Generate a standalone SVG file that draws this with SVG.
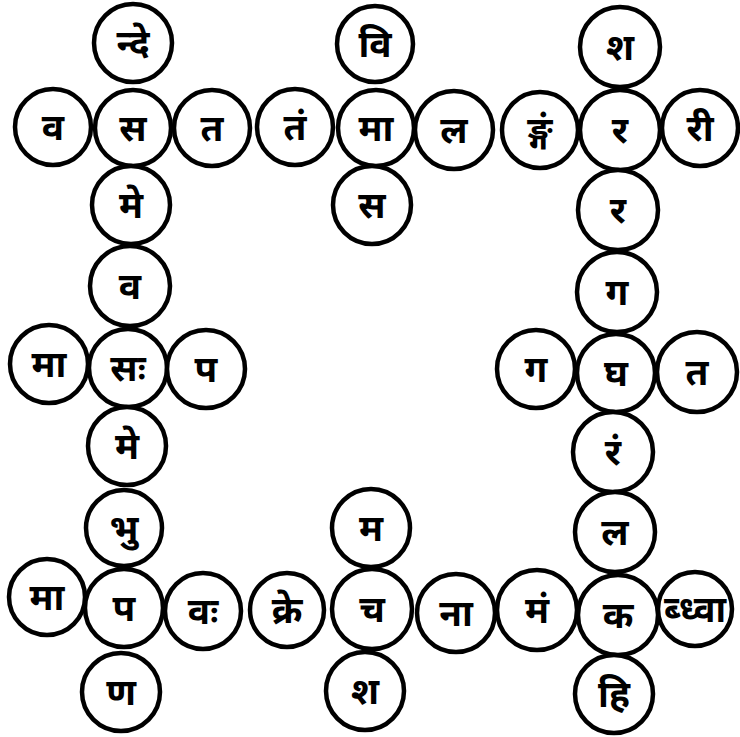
<svg xmlns="http://www.w3.org/2000/svg" width="740" height="737" viewBox="0 0 740 737">
<style>
  .c { fill: #fff; stroke: #000; stroke-width: 4.5; }
  .t { font-family: "Noto Sans Devanagari", "Noto Serif Devanagari", "Lohit Devanagari", "Mukta", "Noto Sans", sans-serif; font-size: 37px; font-weight: bold; text-anchor: middle; fill: #000; }
</style>
<rect width="740" height="737" fill="#fff"/>
<g id="connectors"></g>
<g id="n1"><circle class="c" cx="53" cy="127" r="38"/><text class="t" x="53" y="140">व</text></g>
<g id="n2"><circle class="c" cx="133" cy="128" r="38"/><text class="t" x="133" y="141">स</text></g>
<g id="n3"><circle class="c" cx="212" cy="128" r="38"/><text class="t" x="212" y="141">त</text></g>
<g id="n4"><circle class="c" cx="295" cy="127" r="38"/><text class="t" x="295" y="140">तं</text></g>
<g id="n5"><circle class="c" cx="376" cy="128" r="38"/><text class="t" x="376" y="141">मा</text></g>
<g id="n6"><circle class="c" cx="454" cy="130" r="39"/><text class="t" x="454" y="143">ल</text></g>
<g id="n7"><circle class="c" cx="540" cy="130" r="38"/><text class="t" x="540" y="143">ङ्गं</text></g>
<g id="n8"><circle class="c" cx="620" cy="130" r="40"/><text class="t" x="620" y="143">र</text></g>
<g id="n9"><circle class="c" cx="700" cy="128" r="38"/><text class="t" x="700" y="141">री</text></g>
<g id="n10"><circle class="c" cx="133" cy="43" r="39"/><text class="t" x="133" y="56">न्दे</text></g>
<g id="n11"><circle class="c" cx="375" cy="44" r="38"/><text class="t" x="375" y="57">वि</text></g>
<g id="n12"><circle class="c" cx="620" cy="47" r="40"/><text class="t" x="620" y="60">श</text></g>
<g id="n13"><circle class="c" cx="372" cy="205" r="39"/><text class="t" x="372" y="218">स</text></g>
<g id="n14"><circle class="c" cx="131" cy="205" r="39"/><text class="t" x="131" y="218">मे</text></g>
<g id="n15"><circle class="c" cx="130" cy="286" r="40"/><text class="t" x="130" y="299">व</text></g>
<g id="n16"><circle class="c" cx="49" cy="364" r="39"/><text class="t" x="49" y="377">मा</text></g>
<g id="n17"><circle class="c" cx="128" cy="368" r="39"/><text class="t" x="128" y="381">सः</text></g>
<g id="n18"><circle class="c" cx="206" cy="369" r="39"/><text class="t" x="206" y="382">प</text></g>
<g id="n19"><circle class="c" cx="127" cy="446" r="39"/><text class="t" x="127" y="459">मे</text></g>
<g id="n20"><circle class="c" cx="124" cy="528" r="38"/><text class="t" x="124" y="541">भु</text></g>
<g id="n21"><circle class="c" cx="618" cy="210" r="40"/><text class="t" x="618" y="223">र</text></g>
<g id="n22"><circle class="c" cx="617" cy="292" r="40"/><text class="t" x="617" y="305">ग</text></g>
<g id="n23"><circle class="c" cx="536" cy="369" r="39"/><text class="t" x="536" y="382">ग</text></g>
<g id="n24"><circle class="c" cx="616" cy="373" r="39"/><text class="t" x="616" y="386">घ</text></g>
<g id="n25"><circle class="c" cx="697" cy="372" r="40"/><text class="t" x="697" y="385">त</text></g>
<g id="n26"><circle class="c" cx="613" cy="452" r="40"/><text class="t" x="613" y="465">रं</text></g>
<g id="n27"><circle class="c" cx="615" cy="532" r="40"/><text class="t" x="615" y="545">ल</text></g>
<g id="n28"><circle class="c" cx="47" cy="597" r="38"/><text class="t" x="47" y="610">मा</text></g>
<g id="n29"><circle class="c" cx="124" cy="608" r="39"/><text class="t" x="124" y="621">प</text></g>
<g id="n30"><circle class="c" cx="203" cy="611" r="38"/><text class="t" x="203" y="624">वः</text></g>
<g id="n31"><circle class="c" cx="287" cy="610" r="37"/><text class="t" x="287" y="623">क्रे</text></g>
<g id="n32"><circle class="c" cx="372" cy="609" r="40"/><text class="t" x="372" y="622">च</text></g>
<g id="n33"><circle class="c" cx="456" cy="613" r="39"/><text class="t" x="456" y="626">ना</text></g>
<g id="n34"><circle class="c" cx="537" cy="610" r="40"/><text class="t" x="537" y="623">मं</text></g>
<g id="n35"><circle class="c" cx="618" cy="615" r="40"/><text class="t" x="618" y="628">क</text></g>
<g id="n36"><circle class="c" cx="695" cy="609" r="37"/><text class="t" x="695" y="622" style="font-size:36px">ब्ध्वा</text></g>
<g id="n37"><circle class="c" cx="371" cy="528" r="39"/><text class="t" x="371" y="541">म</text></g>
<g id="n38"><circle class="c" cx="121" cy="692" r="39"/><text class="t" x="121" y="705">ण</text></g>
<g id="n39"><circle class="c" cx="365" cy="691" r="39"/><text class="t" x="365" y="704">श</text></g>
<g id="n40"><circle class="c" cx="614" cy="694" r="39"/><text class="t" x="614" y="707">हि</text></g>
</svg>
